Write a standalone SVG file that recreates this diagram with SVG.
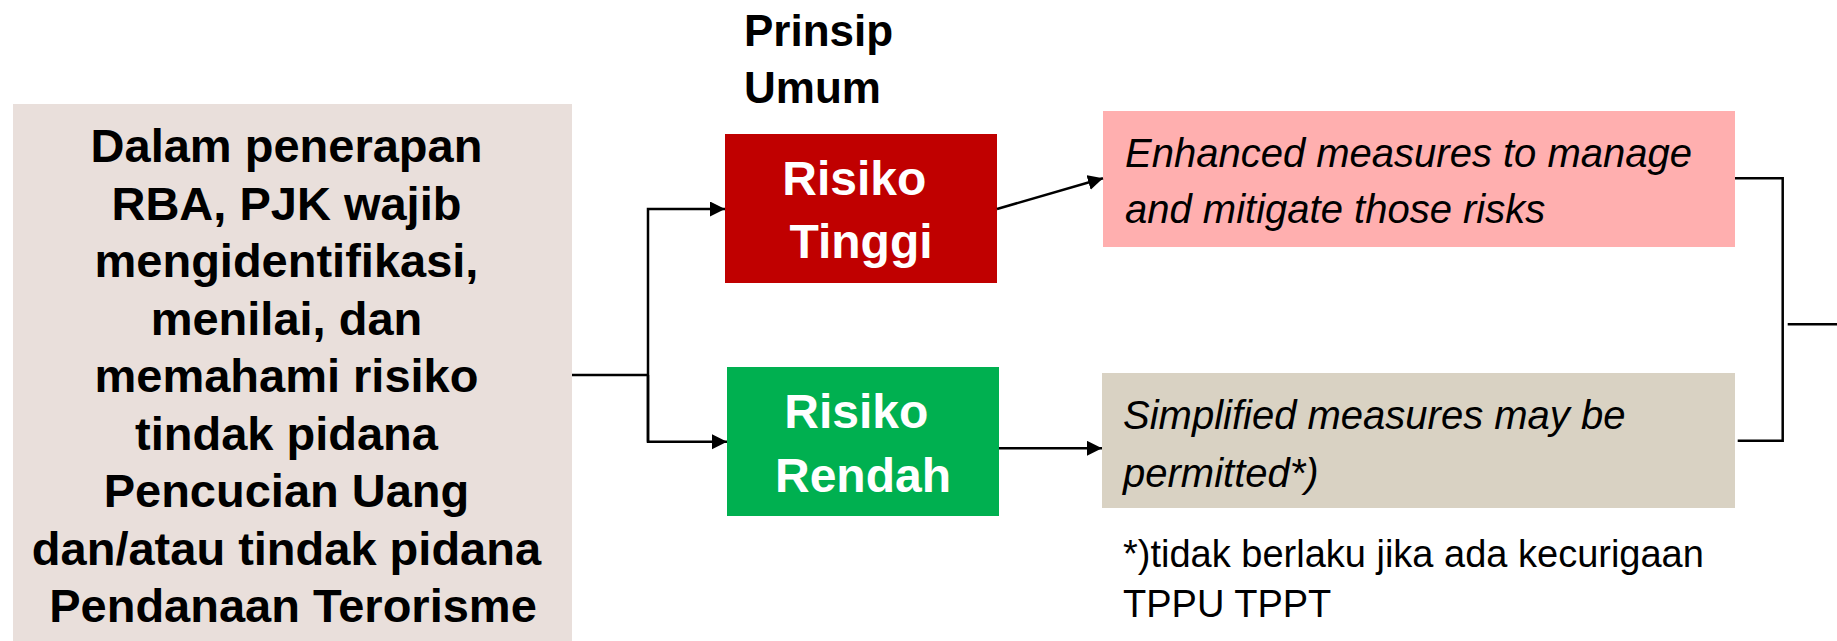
<svg xmlns="http://www.w3.org/2000/svg" width="1837" height="641" viewBox="0 0 1837 641">
  <style>
    .bold { font-family: "Liberation Sans", Arial, sans-serif; font-weight: bold; }
    .ital { font-family: "Liberation Sans", Arial, sans-serif; font-style: italic; font-size: 40px; fill: #000; }
    .note { font-family: "Liberation Sans", Arial, sans-serif; font-size: 38px; fill: #000; }
    .lead { font-size: 47px; fill: #000; text-anchor: middle; }
    .risk { font-size: 48px; fill: #fff; text-anchor: middle; }
    .wire { fill: none; stroke: #000; stroke-width: 2.5; }
  </style>
  <defs>
    <marker id="arrow" markerUnits="userSpaceOnUse" markerWidth="16" markerHeight="16" viewBox="0 0 16 16" refX="15" refY="7.5" orient="auto">
      <path d="M0,0 L15,7.5 L0,15 Z" fill="#000"/>
    </marker>
  </defs>
  <rect width="1837" height="641" fill="#fff"/>

  <!-- Main statement -->
  <g id="statement">
    <rect x="13" y="104" width="559" height="537" fill="#E9DFDB"/>
    <text class="bold lead">
      <tspan x="293" y="162">Dalam penerapan</tspan>
      <tspan x="293" y="219.5">RBA, PJK wajib</tspan>
      <tspan x="293" y="277">mengidentifikasi,</tspan>
      <tspan x="293" y="334.5">menilai, dan</tspan>
      <tspan x="293" y="392">memahami risiko</tspan>
      <tspan x="293" y="449.5">tindak pidana</tspan>
      <tspan x="293" y="507">Pencucian Uang</tspan>
      <tspan x="293" y="564.5">dan/atau tindak pidana</tspan>
      <tspan x="293" y="622">Pendanaan Terorisme</tspan>
    </text>
  </g>

  <!-- Heading -->
  <g id="heading">
    <text class="bold" font-size="44" fill="#000">
      <tspan x="744" y="46">Prinsip</tspan>
      <tspan x="744" y="103">Umum</tspan>
    </text>
  </g>

  <!-- High risk -->
  <g id="risk-high">
    <rect x="725" y="134" width="272" height="149" fill="#C00000"/>
    <text class="bold risk">
      <tspan x="861" y="195">Risiko</tspan>
      <tspan x="861" y="258">Tinggi</tspan>
    </text>
  </g>

  <!-- Low risk -->
  <g id="risk-low">
    <rect x="727" y="367" width="272" height="149" fill="#00B050"/>
    <text class="bold risk">
      <tspan x="863" y="428">Risiko</tspan>
      <tspan x="863" y="492">Rendah</tspan>
    </text>
  </g>

  <!-- Enhanced measures -->
  <g id="enhanced">
    <rect x="1103" y="111" width="632" height="136" fill="#FFAFAF"/>
    <text class="ital">
      <tspan x="1125" y="167">Enhanced measures to manage</tspan>
      <tspan x="1125" y="223">and mitigate those risks</tspan>
    </text>
  </g>

  <!-- Simplified measures -->
  <g id="simplified">
    <rect x="1102" y="373" width="633" height="135" fill="#D9D2C3"/>
    <text class="ital">
      <tspan x="1123" y="429">Simplified measures may be</tspan>
      <tspan x="1123" y="487">permitted*)</tspan>
    </text>
  </g>

  <!-- Footnote -->
  <g id="footnote">
    <text class="note">
      <tspan x="1123" y="567">*)tidak berlaku jika ada kecurigaan</tspan>
      <tspan x="1123" y="617">TPPU TPPT</tspan>
    </text>
  </g>

  <!-- Connectors -->
  <g id="connectors">
    <path class="wire" d="M572,375 H648"/>
    <path class="wire" d="M648,441.7 V209 H725" marker-end="url(#arrow)"/>
    <path class="wire" d="M648,375 V441.7 H727" marker-end="url(#arrow)"/>
    <path class="wire" d="M997,209 L1103,178.3" marker-end="url(#arrow)"/>
    <path class="wire" d="M999,448.3 H1102" marker-end="url(#arrow)"/>
    <path class="wire" d="M1735,178.3 H1782.7 V440.7 H1737.7"/>
    <path class="wire" d="M1787.7,324.3 H1837"/>
  </g>
</svg>
